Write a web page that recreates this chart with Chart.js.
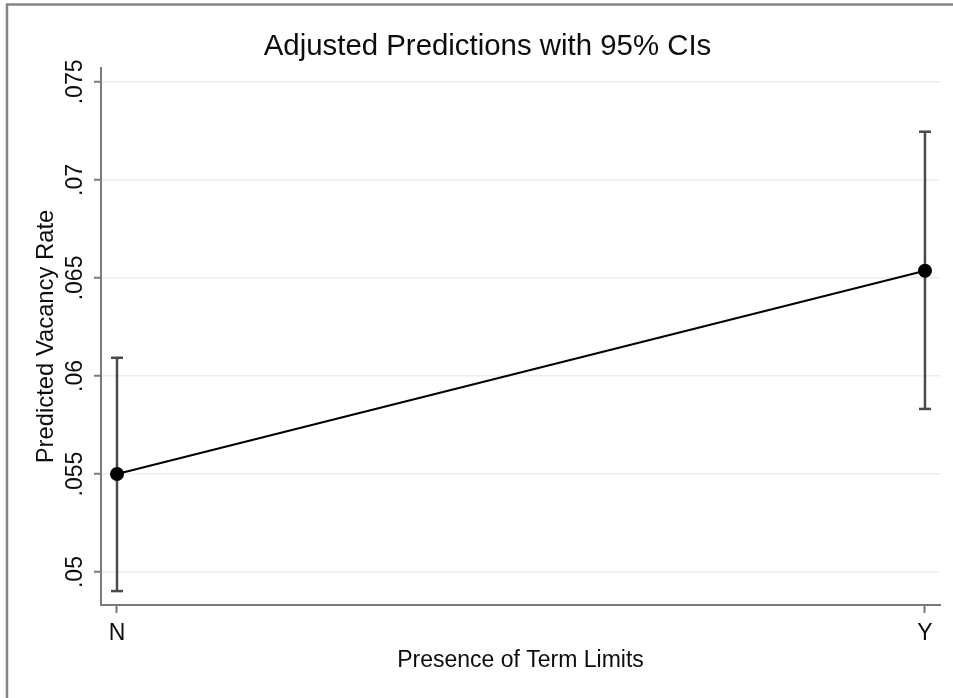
<!DOCTYPE html>
<html>
<head>
<meta charset="utf-8">
<script src="https://cdn.jsdelivr.net/npm/chart.js@4/dist/chart.umd.min.js"></script>
<style>
  html, body { margin: 0; padding: 0; background: #ffffff; }
  canvas { display: block; }
</style>
</head>
<body>
<canvas id="c" width="953" height="698"></canvas>
<script>
// Term-limit groups on the x axis
const categories = ['N', 'Y'];
const categoryPos = [0, 1];

// Adjusted predictions and 95% confidence limits
const predicted = [0.0550, 0.06537];
const ciLower = [0.04903, 0.05832];
const ciUpper = [0.06093, 0.07246];

// Y axis tick values and their labels
const yTickValues = [0.05, 0.055, 0.06, 0.065, 0.07, 0.075];
const yTickLabels = ['.05', '.055', '.06', '.065', '.07', '.075'];

const FONT = '"Liberation Sans", Arial, Helvetica, sans-serif';
const TEXT = '#0d0d0d';
const AXIS = '#7a7a7a';
const BAR = '#4a4a4a';

// Outer frame and white backdrop
const framePlugin = {
  id: 'frame',
  beforeDraw(chart) {
    const ctx = chart.ctx;
    ctx.save();
    ctx.fillStyle = '#ffffff';
    ctx.fillRect(0, 0, chart.width, chart.height);
    ctx.strokeStyle = '#858585';
    ctx.lineWidth = 2.5;
    ctx.beginPath();
    ctx.moveTo(7, chart.height + 2);
    ctx.lineTo(7, 4.5);
    ctx.lineTo(chart.width + 2, 4.5);
    ctx.stroke();
    ctx.restore();
  }
};

// Rotated y tick labels and x category labels
const tickLabelPlugin = {
  id: 'tickLabels',
  afterDraw(chart) {
    const ctx = chart.ctx;
    const y = chart.scales.y, x = chart.scales.x;
    ctx.save();
    ctx.fillStyle = TEXT;
    ctx.font = '23px ' + FONT;
    ctx.textAlign = 'center';
    ctx.textBaseline = 'alphabetic';
    yTickValues.forEach((v, i) => {
      const py = y.getPixelForValue(v);
      ctx.save();
      ctx.translate(82, py);
      ctx.rotate(-Math.PI / 2);
      ctx.fillText(yTickLabels[i], 0, 0);
      ctx.restore();
    });
    categoryPos.forEach((v, i) => {
      ctx.fillText(categories[i], x.getPixelForValue(v), 640);
    });
    ctx.restore();
  }
};

const datasets = [{
  label: 'Predicted',
  data: categoryPos.map((p, i) => ({ x: p, y: predicted[i] })),
  borderColor: '#000000',
  borderWidth: 2,
  pointRadius: 7,
  pointBackgroundColor: '#000000',
  pointBorderWidth: 0,
  tension: 0
}];
categoryPos.forEach((p, i) => {
  datasets.push({
    label: 'CI ' + categories[i],
    data: [{ x: p, y: ciLower[i] }, { x: p, y: ciUpper[i] }],
    borderColor: BAR,
    borderWidth: 2.5,
    pointStyle: 'line',
    pointRadius: 6,
    pointBorderWidth: 2.5,
    pointBorderColor: BAR,
    pointBackgroundColor: BAR
  });
});

new Chart(document.getElementById('c'), {
  type: 'line',
  data: { datasets },
  plugins: [framePlugin, tickLabelPlugin],
  options: {
    responsive: false,
    devicePixelRatio: 1,
    animation: false,
    layout: { padding: { left: 35, right: 13, top: 0, bottom: 0 } },
    plugins: {
      legend: { display: false },
      tooltip: { enabled: false },
      title: {
        display: true,
        text: 'Adjusted Predictions with 95% CIs',
        color: TEXT,
        font: { family: FONT, size: 29.4, weight: 'normal' },
        padding: { top: 29, bottom: 3.7 }
      }
    },
    scales: {
      x: {
        type: 'linear',
        min: -0.0198,
        max: 1.0186,
        afterBuildTicks(s) { s.ticks = categoryPos.map(v => ({ value: v })); },
        afterFit(s) { s.height = 93; },
        ticks: { display: false },
        grid: { drawOnChartArea: false, drawTicks: true, tickLength: 8, tickColor: AXIS, tickWidth: 2 },
        border: { display: true, color: AXIS, width: 2 },
        title: {
          display: true,
          text: 'Presence of Term Limits',
          color: TEXT,
          font: { family: FONT, size: 23 },
          padding: { top: 0, bottom: 24 }
        }
      },
      y: {
        type: 'linear',
        min: 0.04832,
        max: 0.07571,
        afterBuildTicks(s) { s.ticks = yTickValues.map(v => ({ value: v })); },
        afterFit(s) { s.width = 66; },
        ticks: { display: false },
        grid: { color: '#e9eeee', lineWidth: 1.5, drawTicks: true, tickLength: 7, tickColor: AXIS, tickWidth: 2 },
        border: { display: true, color: AXIS, width: 2 },
        title: {
          display: true,
          text: 'Predicted Vacancy Rate',
          color: TEXT,
          font: { family: FONT, size: 23.8, lineHeight: 1.0 },
          padding: { top: 0, bottom: 0 }
        }
      }
    }
  }
});
</script>
</body>
</html>
